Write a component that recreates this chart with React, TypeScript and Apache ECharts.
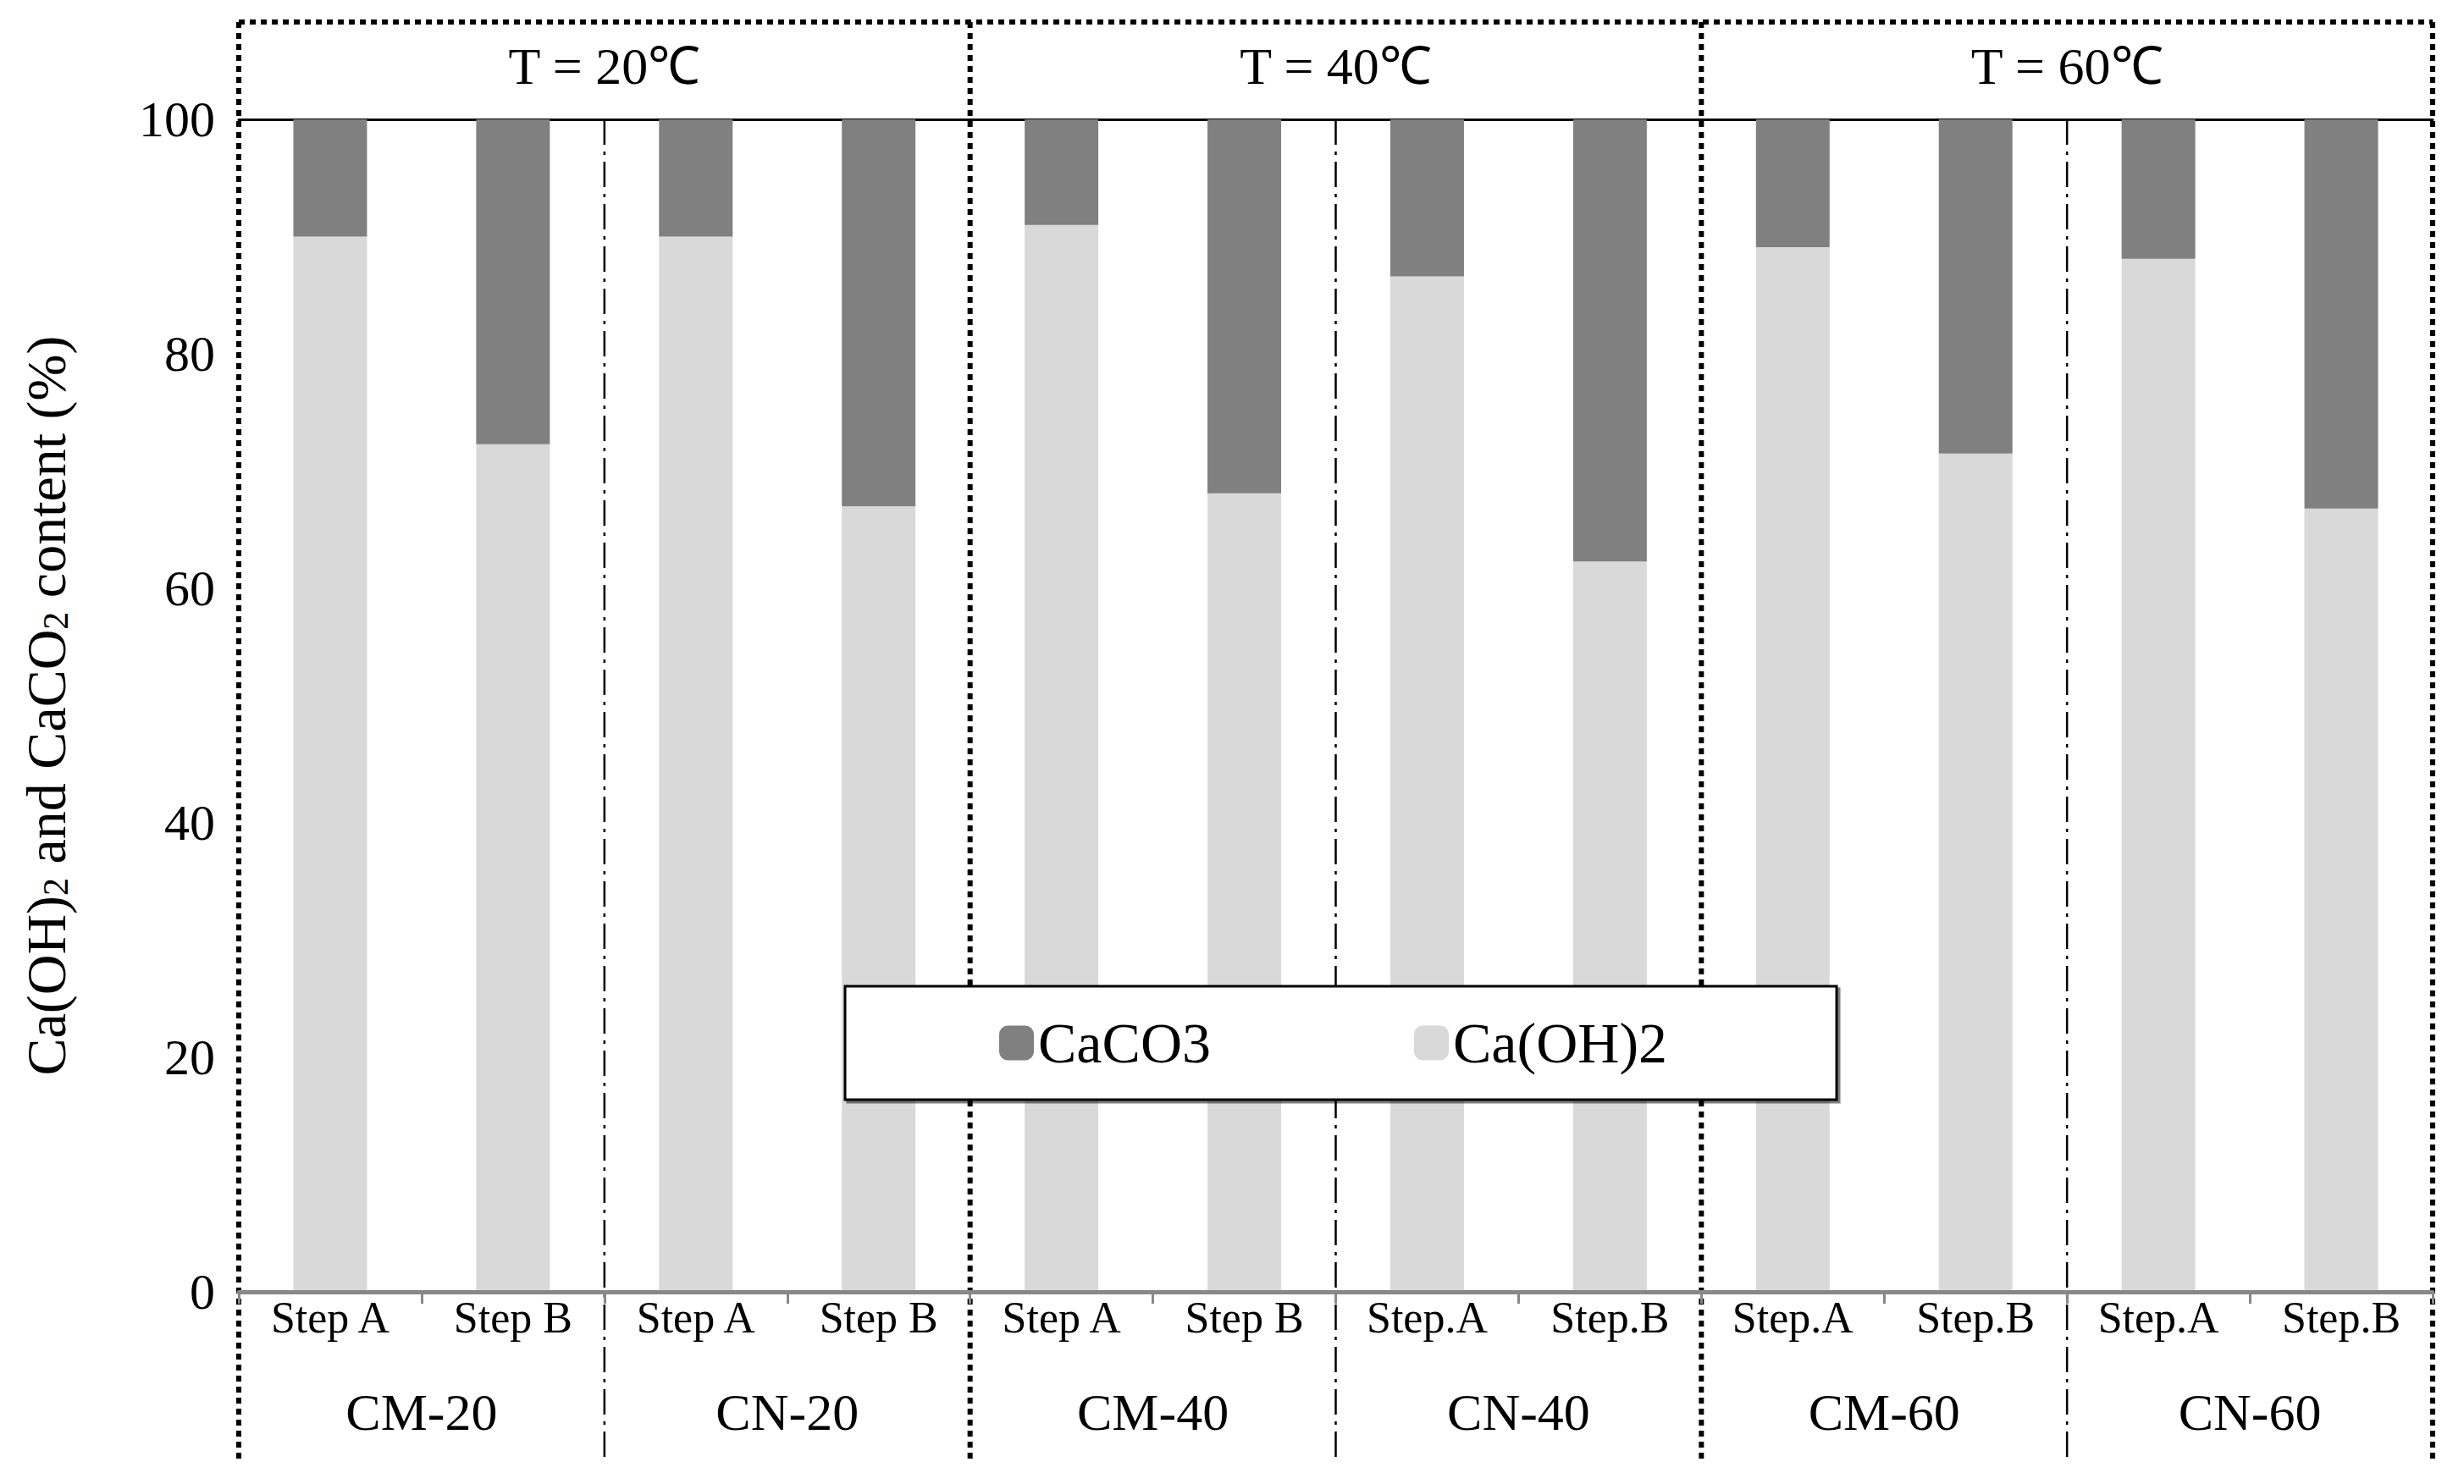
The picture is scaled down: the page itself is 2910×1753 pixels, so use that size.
import { useEffect, useRef, type JSX } from "react";
import * as echarts from "echarts";

const steps = ["Step A", "Step B", "Step A", "Step B", "Step A", "Step B", "Step.A", "Step.B", "Step.A", "Step.B", "Step.A", "Step.B"];
const samples = ["CM-20", "CN-20", "CM-40", "CN-40", "CM-60", "CN-60"];
const temps = ["T = 20℃", "T = 40℃", "T = 60℃"];
const caOH2 = [90, 72.3, 90, 67, 91, 68.1, 86.6, 62.3, 89.1, 71.5, 88.1, 66.8];
const caCO3 = [10, 27.7, 10, 33, 9, 31.9, 13.4, 37.7, 10.9, 28.5, 11.9, 33.2];

const W = 2910;
const H = 1753;
const L = 282;
const R = 2873;
const T = 141;
const B = 1526;
const FONT = "Liberation Serif";

function App(): JSX.Element {
  const chartRef = useRef<HTMLDivElement>(null);

  useEffect(() => {
    if (!chartRef.current) return;
    const chart = echarts.init(chartRef.current, null, { renderer: "svg" });
    const cw = (R - L) / steps.length;

    const dividers: any[] = [];
    // dash-dot between samples
    for (let k = 1; k < samples.length; k++) {
      if (k % 2 === 0) continue;
      const x = L + cw * 2 * k;
      dividers.push({
        type: "line",
        shape: { x1: x, y1: T, x2: x, y2: 1726 },
        style: { stroke: "#000", lineWidth: 2.5, lineDash: [30, 8, 4, 8] },
      });
    }
    // heavy dotted around temperature groups
    [L, L + cw * 4, L + cw * 8, R].forEach((x) => {
      dividers.push({
        type: "line",
        shape: { x1: x, y1: 26, x2: x, y2: 1726 },
        style: { stroke: "#000", lineWidth: 6, lineDash: [7, 6] },
      });
    });
    dividers.push({
      type: "line",
      shape: { x1: L, y1: 26, x2: R, y2: 26 },
      style: { stroke: "#000", lineWidth: 6, lineDash: [7, 6] },
    });

    chart.setOption({
      animation: false,
      textStyle: { fontFamily: FONT, color: "#000" },
      grid: { left: L, right: W - R, top: T, bottom: H - B },
      legend: {
        data: ["CaCO3", "Ca(OH)2"],
        left: 998,
        top: 1165,
        orient: "horizontal",
        padding: [33, 200, 33, 182],
        itemGap: 240,
        itemWidth: 41,
        itemHeight: 41,
        borderColor: "#000",
        borderWidth: 3,
        backgroundColor: "#fff",
        shadowColor: "rgba(0,0,0,0.5)",
        shadowOffsetX: 3,
        shadowOffsetY: 3,
        textStyle: { fontSize: 68, fontFamily: FONT, color: "#000" },
      },
      xAxis: [
        {
          type: "category",
          data: steps,
          position: "bottom",
          axisLine: { lineStyle: { color: "#888", width: 5 } },
          axisTick: { show: true, interval: 0, length: 14, lineStyle: { color: "#888", width: 3 } },
          axisLabel: { interval: 0, fontSize: 52, margin: 4, fontFamily: FONT, color: "#000" },
          z: 5,
        },
        {
          type: "category",
          data: samples,
          position: "bottom",
          offset: 103,
          axisLine: { show: false },
          axisTick: { show: false },
          axisLabel: { interval: 0, fontSize: 62, margin: 8, fontFamily: FONT, color: "#000" },
        },
        {
          type: "category",
          data: temps,
          position: "top",
          axisLine: { show: true, lineStyle: { color: "#000", width: 3 } },
          axisTick: { show: false },
          axisLabel: { interval: 0, fontSize: 62, margin: 32, fontFamily: FONT, color: "#000" },
        },
      ],
      yAxis: {
        type: "value",
        min: 0,
        max: 100,
        interval: 20,
        axisLine: { show: false },
        axisTick: { show: false },
        splitLine: { show: false },
        axisLabel: { fontSize: 60, margin: 28, fontFamily: FONT, color: "#000" },
        name: "{a|Ca(OH)}{s|2}{a| and CaCO}{s|2}{a| content (%)}",
        nameLocation: "middle",
        nameGap: 195,
        nameTextStyle: {
          rich: {
            a: { fontSize: 66, fontFamily: FONT, color: "#000" },
            s: { fontSize: 42, fontFamily: FONT, color: "#000", padding: [24, 0, 0, 0] },
          },
        },
      },
      series: [
        {
          name: "Ca(OH)2",
          type: "bar",
          stack: "total",
          barWidth: 87,
          xAxisIndex: 0,
          data: caOH2,
          itemStyle: { color: "#d9d9d9" },
        },
        {
          name: "CaCO3",
          type: "bar",
          stack: "total",
          barWidth: 87,
          xAxisIndex: 0,
          data: caCO3,
          itemStyle: { color: "#808080" },
        },
      ],
      graphic: dividers.map((d) => ({ ...d, z: 0 })),
    });

    return () => {
      chart.dispose();
    };
  }, []);

  return (
    <div
      ref={chartRef}
      style={{ position: "fixed", left: 0, top: 0, width: W + "px", height: H + "px", background: "#fff" }}
    />
  );
}

export default App;
